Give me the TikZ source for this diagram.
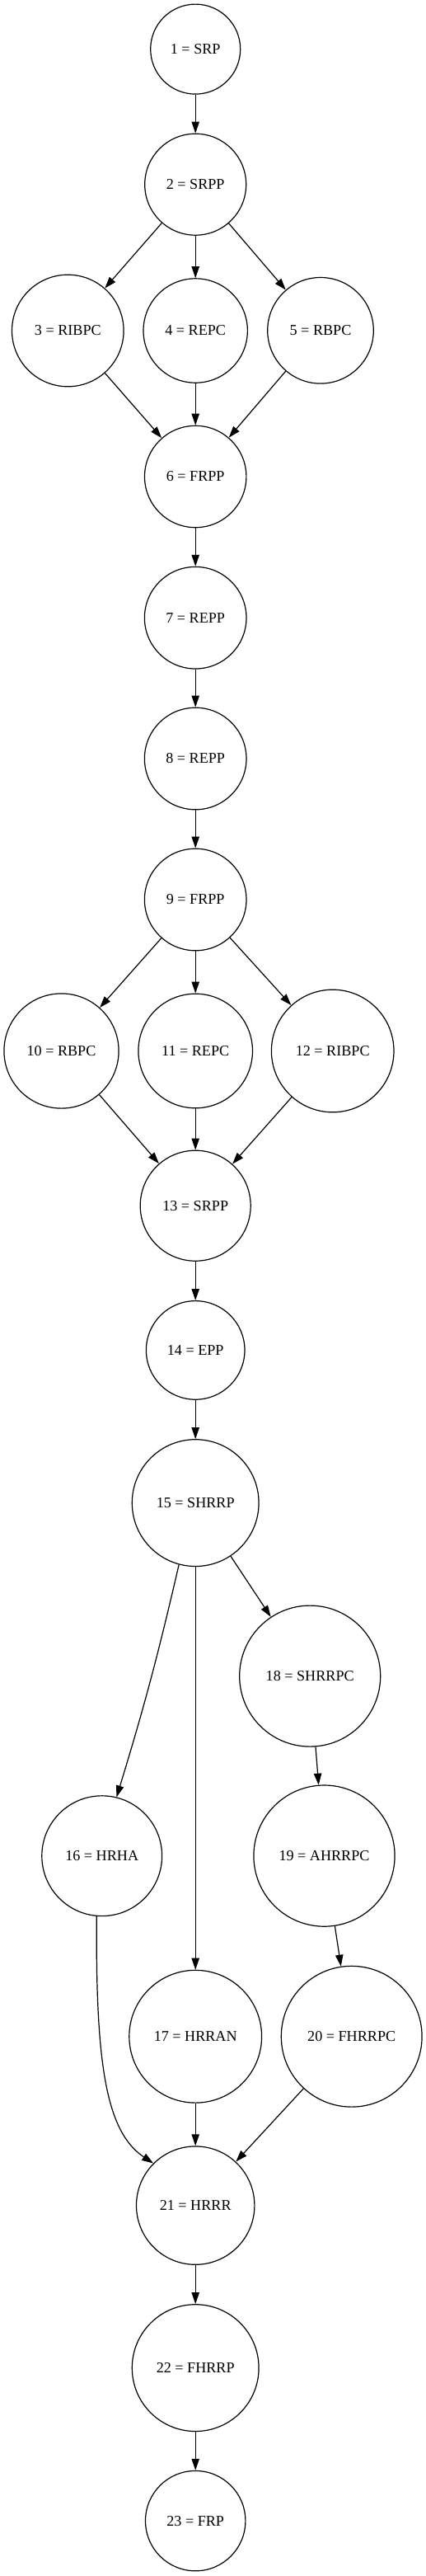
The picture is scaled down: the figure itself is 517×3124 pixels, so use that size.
\documentclass[tikz,border=0pt]{standalone}
\usepackage{fontspec}
\setmainfont{Liberation Serif}
\usetikzlibrary{arrows.meta}
\newcommand\mynode[5]{\node[st, minimum size=#4*1.5pt] (#1) at (#2,#3) {#5};}
\begin{document}
\begin{tikzpicture}[x=0.75pt,y=-0.75pt,
  st/.style={draw, circle, inner sep=0pt, line width=0.9pt, font=\fontsize{13.6}{16}\selectfont},
  arr/.style={line width=0.9pt, -{Triangle[length=10.5pt,width=7pt]}}]
\fill[white] (0,0) rectangle (517,3124);
\useasboundingbox (0,0) rectangle (517,3124);
\mynode{n1}{237.2}{59.6}{54.5}{1 = SRP}
\mynode{n2}{237.2}{223.7}{61.5}{2 = SRPP}
\mynode{n3}{82.3}{401}{67.8}{3 = RIBPC}
\mynode{n4}{237.2}{401}{63.2}{4 = REPC}
\mynode{n5}{389}{400.8}{64.3}{5 = RBPC}
\mynode{n6}{237.2}{578}{61.7}{6 = FRPP}
\mynode{n7}{237.2}{749.2}{61.8}{7 = REPP}
\mynode{n8}{237.2}{920}{61.8}{8 = REPP}
\mynode{n9}{237.2}{1091}{61.8}{9 = FRPP}
\mynode{n10}{74.5}{1274.5}{69.6}{10 = RBPC}
\mynode{n11}{237.2}{1274.5}{69.3}{11 = REPC}
\mynode{n12}{403.7}{1274.5}{74.3}{12 = RIBPC}
\mynode{n13}{237.2}{1462.2}{67}{13 = SRPP}
\mynode{n14}{237.2}{1637.4}{59.8}{14 = EPP}
\mynode{n15}{237.2}{1822.6}{76.9}{15 = SHRRP}
\mynode{n16}{123.7}{2250.7}{72.9}{16 = HRHA}
\mynode{n17}{237.2}{2469.7}{80.4}{17 = HRRAN}
\mynode{n18}{376.2}{2032.6}{85.5}{18 = SHRRPC}
\mynode{n19}{393.5}{2250.6}{85.6}{19 = AHRRPC}
\mynode{n20}{426.7}{2469.7}{85.4}{20 = FHRRPC}
\mynode{n21}{237.2}{2674.6}{71.7}{21 = HRRR}
\mynode{n22}{237.2}{2871.6}{76.9}{22 = FHRRP}
\mynode{n23}{237.2}{3057.1}{60.7}{23 = FRP}
\foreach \a/\b in {n1/n2,n2/n3,n2/n4,n2/n5,n3/n6,n4/n6,n5/n6,n6/n7,n7/n8,n8/n9,
  n9/n10,n9/n11,n9/n12,n10/n13,n11/n13,n12/n13,n13/n14,n14/n15,n15/n17,n15/n18,
  n18/n19,n19/n20,n17/n21,n20/n21,n21/n22,n22/n23}
  \draw[arr] (\a) -- (\b);
\draw[arr] (n15.255) to[bend left=2] (n16.76);
\draw[arr] (n16.265) .. controls (116,2500) and (128,2585) .. (n21.135);
\end{tikzpicture}
\end{document}
